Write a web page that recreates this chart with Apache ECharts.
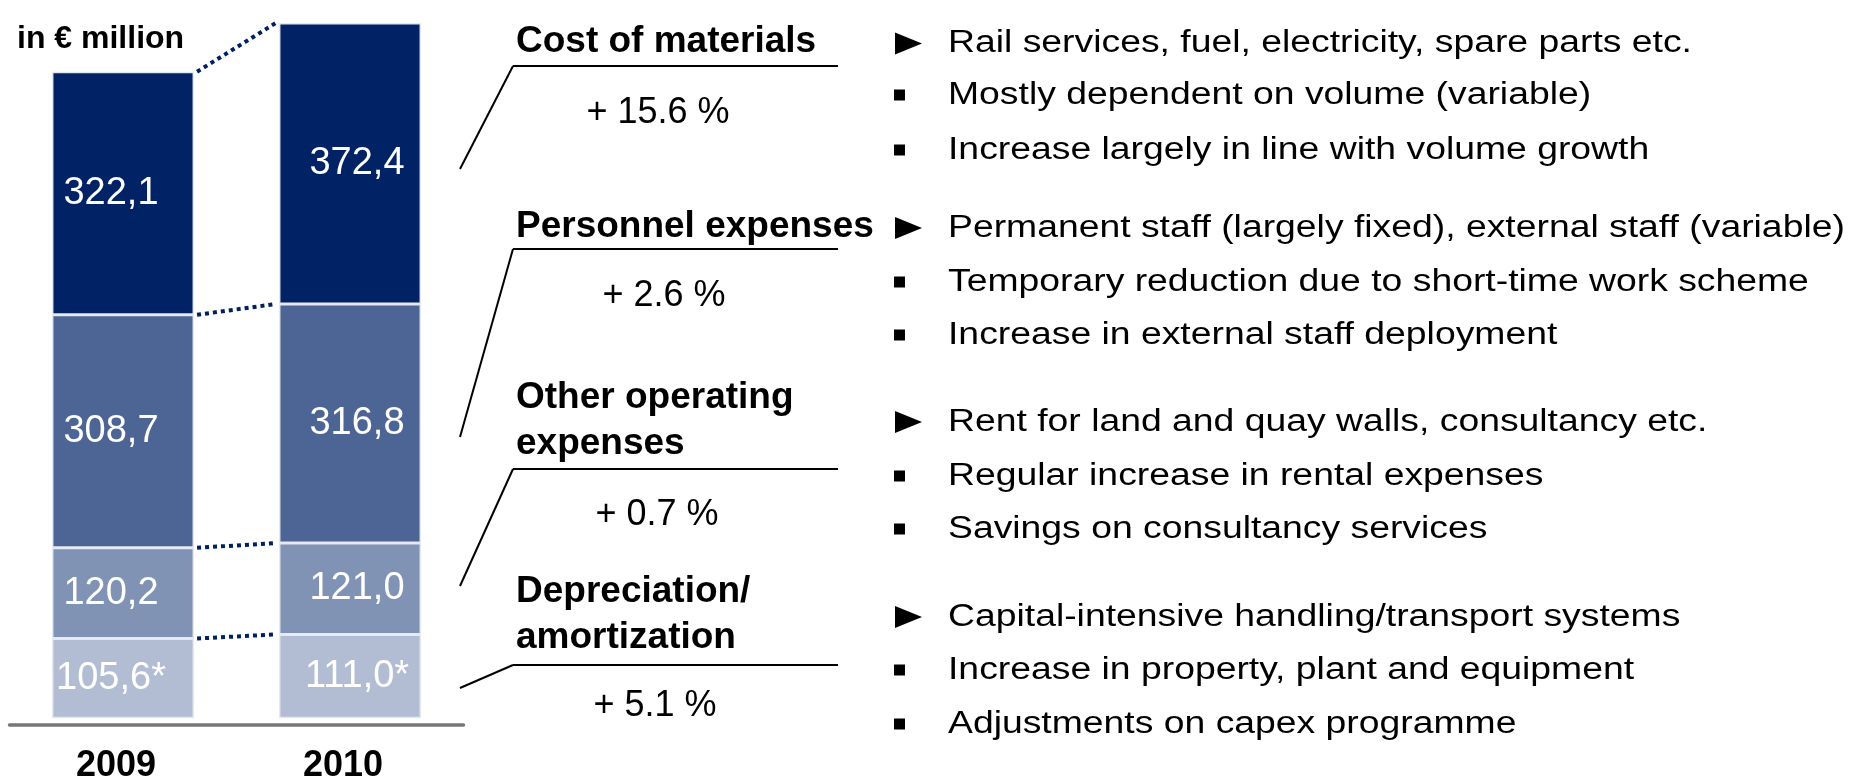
<!DOCTYPE html>
<html>
<head>
<meta charset="utf-8">
<title>Cost structure 2009 / 2010</title>
<script src="https://cdn.jsdelivr.net/npm/echarts@6/dist/echarts.min.js"></script>
<style>
    html, body { margin: 0; padding: 0; background: #fff; }
    #main { width: 1863px; height: 784px; }
</style>
</head>
<body>
<div id="main"></div>
<script>
// data, in € million
var years = ['2009', '2010'];
var depreciation = [105.6, 111.0];
var otherOpex = [120.2, 121.0];
var personnel = [308.7, 316.8];
var materials = [322.1, 372.4];
var depMark = '*';   // footnote on depreciation

// right hand texts
var headers = [
    ['Cost of materials'],
    ['Personnel expenses'],
    ['Other operating', 'expenses'],
    ['Depreciation/', 'amortization']
];
var changes = ['+ 15.6 %', '+ 2.6 %', '+ 0.7 %', '+ 5.1 %'];
var bullets = [
    ['Rail services, fuel, electricity, spare parts etc.', 'Mostly dependent on volume (variable)', 'Increase largely in line with volume growth'],
    ['Permanent staff (largely fixed), external staff (variable)', 'Temporary reduction due to short-time work scheme', 'Increase in external staff deployment'],
    ['Rent for land and quay walls, consultancy etc.', 'Regular increase in rental expenses', 'Savings on consultancy services'],
    ['Capital-intensive handling/transport systems', 'Increase in property, plant and equipment', 'Adjustments on capex programme']
];

var myChart = echarts.init(document.getElementById('main'));

var FONT = '"Liberation Sans", Arial, Helvetica, sans-serif';
var colors = ['#b2bdd4', '#8193b4', '#4d6595', '#022266'];
var barPct = 0.626;
var labelShift = [-12, 7];   // value labels sit a bit off centre per year

// stack boundaries for the dotted connectors
var levels = [];
var c0 = 0, c1 = 0;
[depreciation, otherOpex, personnel, materials].forEach(function (s) {
    c0 += s[0];
    c1 += s[1];
    levels.push([0, c0, c1]);
});

function fmt(v) {
    return v.toFixed(1).replace('.', ',');
}

function barSeries(name, data, color, mark) {
    return {
        name: name,
        type: 'bar',
        stack: 'total',
        barWidth: (barPct * 100) + '%',
        data: data.map(function (v, i) {
            return { value: v, label: { offset: [labelShift[i], 0] } };
        }),
        itemStyle: {
            color: color,
            borderColor: '#e4e8f0',
            borderWidth: 1.5
        },
        label: {
            show: true,
            position: 'inside',
            color: '#fff',
            fontFamily: FONT,
            fontSize: 38,
            formatter: function (p) { return fmt(p.value) + (mark || ''); }
        }
    };
}

// annotations
var graphics = [];
function txt(x, y, text, size, weight, sx, align) {
    graphics.push({
        type: 'text', x: x, y: y, scaleX: sx || 1,
        style: {
            text: text, fill: '#000',
            font: weight + ' ' + size + 'px ' + FONT,
            textAlign: align || 'left', align: align || 'left',
            textVerticalAlign: 'middle', verticalAlign: 'middle'
        }
    });
}
function seg(x1, y1, x2, y2) {
    graphics.push({
        type: 'line',
        shape: { x1: x1, y1: y1, x2: x2, y2: y2 },
        style: { stroke: '#000', lineWidth: 2 }
    });
}

txt(17, 39, 'in € million', 32, 'bold');

var headY = [[42], [227], [398, 444], [592, 638]];
var ruleY = [66, 249, 469, 665];
var leadY = [169, 437, 586, 688];
var pctPos = [[658, 113], [664, 296], [657, 515], [655, 706]];
var rowY = [[43.5, 95, 150], [228, 282, 335], [422, 476, 529], [617, 670, 724]];

for (var i = 0; i < 4; i++) {
    headers[i].forEach(function (t, k) {
        txt(516, headY[i][k], t, 37, 'bold');
    });
    seg(513, ruleY[i], 838, ruleY[i]);
    seg(513, ruleY[i], 460, leadY[i]);
    txt(pctPos[i][0], pctPos[i][1], changes[i], 36, 'normal', 1, 'center');

    bullets[i].forEach(function (t, k) {
        var y = rowY[i][k];
        if (k === 0) {
            graphics.push({
                type: 'polygon',
                shape: { points: [[895, y - 11], [895, y + 11], [922, y]] },
                style: { fill: '#000' }
            });
        } else {
            graphics.push({
                type: 'rect',
                shape: { x: 894, y: y - 5.5, width: 11, height: 11 },
                style: { fill: '#000' }
            });
        }
        txt(948, y, t, 31, 'normal', 1.204);
    });
}

var option = {
    animation: false,
    grid: {
        left: 9.5,
        width: 454,
        top: 11,
        bottom: 54
    },
    xAxis: {
        type: 'category',
        data: years,
        axisLine: { onZero: false, lineStyle: { color: '#777777', width: 3.5 } },
        axisTick: { show: false },
        axisLabel: {
            margin: 23,
            padding: [0, 14, 0, 0],
            color: '#000',
            fontFamily: FONT,
            fontWeight: 'bold',
            fontSize: 36
        }
    },
    yAxis: {
        type: 'value',
        min: -9,
        max: 937,
        show: false
    },
    series: [
        barSeries('Depreciation/amortization', depreciation, colors[0], depMark),
        barSeries('Other operating expenses', otherOpex, colors[1]),
        barSeries('Personnel expenses', personnel, colors[2]),
        barSeries('Cost of materials', materials, colors[3]),
        {
            // dotted lines joining the stack boundaries of both years
            type: 'custom',
            data: levels,
            encode: { x: 0, y: [1, 2] },
            silent: true,
            renderItem: function (params, api) {
                var p0 = api.coord([0, api.value(1)]);
                var p1 = api.coord([1, api.value(2)]);
                var half = api.size([1, 0])[0] * barPct / 2;
                return {
                    type: 'line',
                    shape: { x1: p0[0] + half + 3, y1: p0[1], x2: p1[0] - half - 3, y2: p1[1] },
                    style: { stroke: '#002060', lineWidth: 4, lineDash: [4, 4] }
                };
            }
        }
    ],
    graphic: graphics
};

myChart.setOption(option);
</script>
</body>
</html>
